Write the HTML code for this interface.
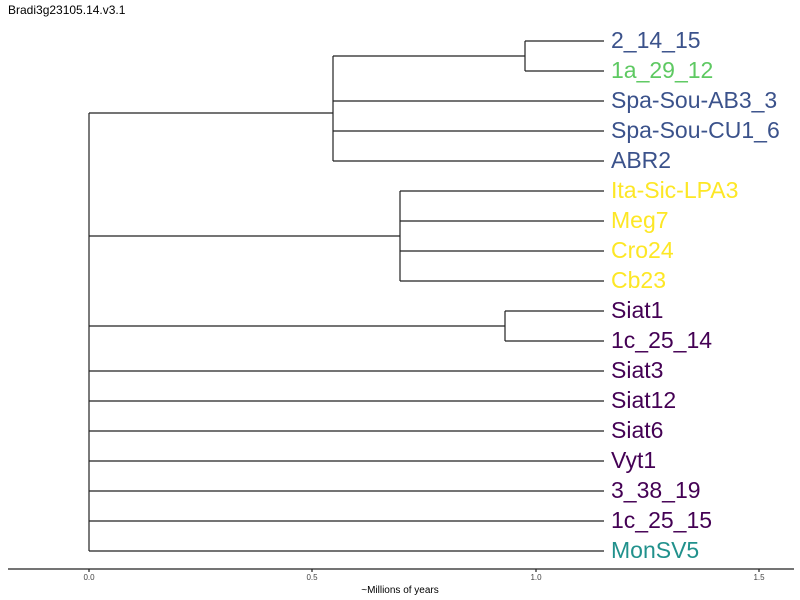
<!DOCTYPE html>
<html><head><meta charset="utf-8"><style>
html,body{margin:0;padding:0;background:#fff;}
svg{display:block;font-family:"Liberation Sans",sans-serif;}
</style></head><body>
<svg width="800" height="600" viewBox="0 0 800 600" xmlns="http://www.w3.org/2000/svg">
<rect width="800" height="600" fill="#fff"/>
<text x="8" y="14" font-size="12" fill="#000">Bradi3g23105.14.v3.1</text>
<g stroke="#222" stroke-width="1.2" fill="none">
<line x1="89" y1="113" x2="89" y2="551"/>
<line x1="89" y1="113" x2="333" y2="113"/>
<line x1="89" y1="236" x2="400" y2="236"/>
<line x1="89" y1="326" x2="505" y2="326"/>
<line x1="89" y1="371" x2="604" y2="371"/>
<line x1="89" y1="401" x2="604" y2="401"/>
<line x1="89" y1="431" x2="604" y2="431"/>
<line x1="89" y1="461" x2="604" y2="461"/>
<line x1="89" y1="491" x2="604" y2="491"/>
<line x1="89" y1="521" x2="604" y2="521"/>
<line x1="89" y1="551" x2="604" y2="551"/>
<line x1="333" y1="56" x2="333" y2="161"/>
<line x1="333" y1="56" x2="525" y2="56"/>
<line x1="525" y1="41" x2="525" y2="71"/>
<line x1="525" y1="41" x2="604" y2="41"/>
<line x1="525" y1="71" x2="604" y2="71"/>
<line x1="333" y1="101" x2="604" y2="101"/>
<line x1="333" y1="131" x2="604" y2="131"/>
<line x1="333" y1="161" x2="604" y2="161"/>
<line x1="400" y1="191" x2="400" y2="281"/>
<line x1="400" y1="191" x2="604" y2="191"/>
<line x1="400" y1="221" x2="604" y2="221"/>
<line x1="400" y1="251" x2="604" y2="251"/>
<line x1="400" y1="281" x2="604" y2="281"/>
<line x1="505" y1="311" x2="505" y2="341"/>
<line x1="505" y1="311" x2="604" y2="311"/>
<line x1="505" y1="341" x2="604" y2="341"/>
<line x1="8" y1="569" x2="794" y2="569"/>
<line x1="89" y1="569" x2="89" y2="572"/>
<line x1="312" y1="569" x2="312" y2="572"/>
<line x1="536" y1="569" x2="536" y2="572"/>
<line x1="759" y1="569" x2="759" y2="572"/>
</g>
<g font-size="8" fill="#444" text-anchor="middle">
<text x="89" y="580">0.0</text>
<text x="312" y="580">0.5</text>
<text x="536" y="580">1.0</text>
<text x="759" y="580">1.5</text>
</g>
<text x="400" y="593" font-size="10" text-anchor="middle" fill="#000">~Millions of years</text>
<g font-size="23" dominant-baseline="central">
<text x="611" y="40" fill="#3b528b">2_14_15</text>
<text x="611" y="70" fill="#5ec962">1a_29_12</text>
<text x="611" y="100" fill="#3b528b">Spa-Sou-AB3_3</text>
<text x="611" y="130" fill="#3b528b">Spa-Sou-CU1_6</text>
<text x="611" y="160" fill="#3b528b">ABR2</text>
<text x="611" y="190" fill="#fde725">Ita-Sic-LPA3</text>
<text x="611" y="220" fill="#fde725">Meg7</text>
<text x="611" y="250" fill="#fde725">Cro24</text>
<text x="611" y="280" fill="#fde725">Cb23</text>
<text x="611" y="310" fill="#440154">Siat1</text>
<text x="611" y="340" fill="#440154">1c_25_14</text>
<text x="611" y="370" fill="#440154">Siat3</text>
<text x="611" y="400" fill="#440154">Siat12</text>
<text x="611" y="430" fill="#440154">Siat6</text>
<text x="611" y="460" fill="#440154">Vyt1</text>
<text x="611" y="490" fill="#440154">3_38_19</text>
<text x="611" y="520" fill="#440154">1c_25_15</text>
<text x="611" y="550" fill="#21918c">MonSV5</text>
</g>
</svg>
</body></html>
